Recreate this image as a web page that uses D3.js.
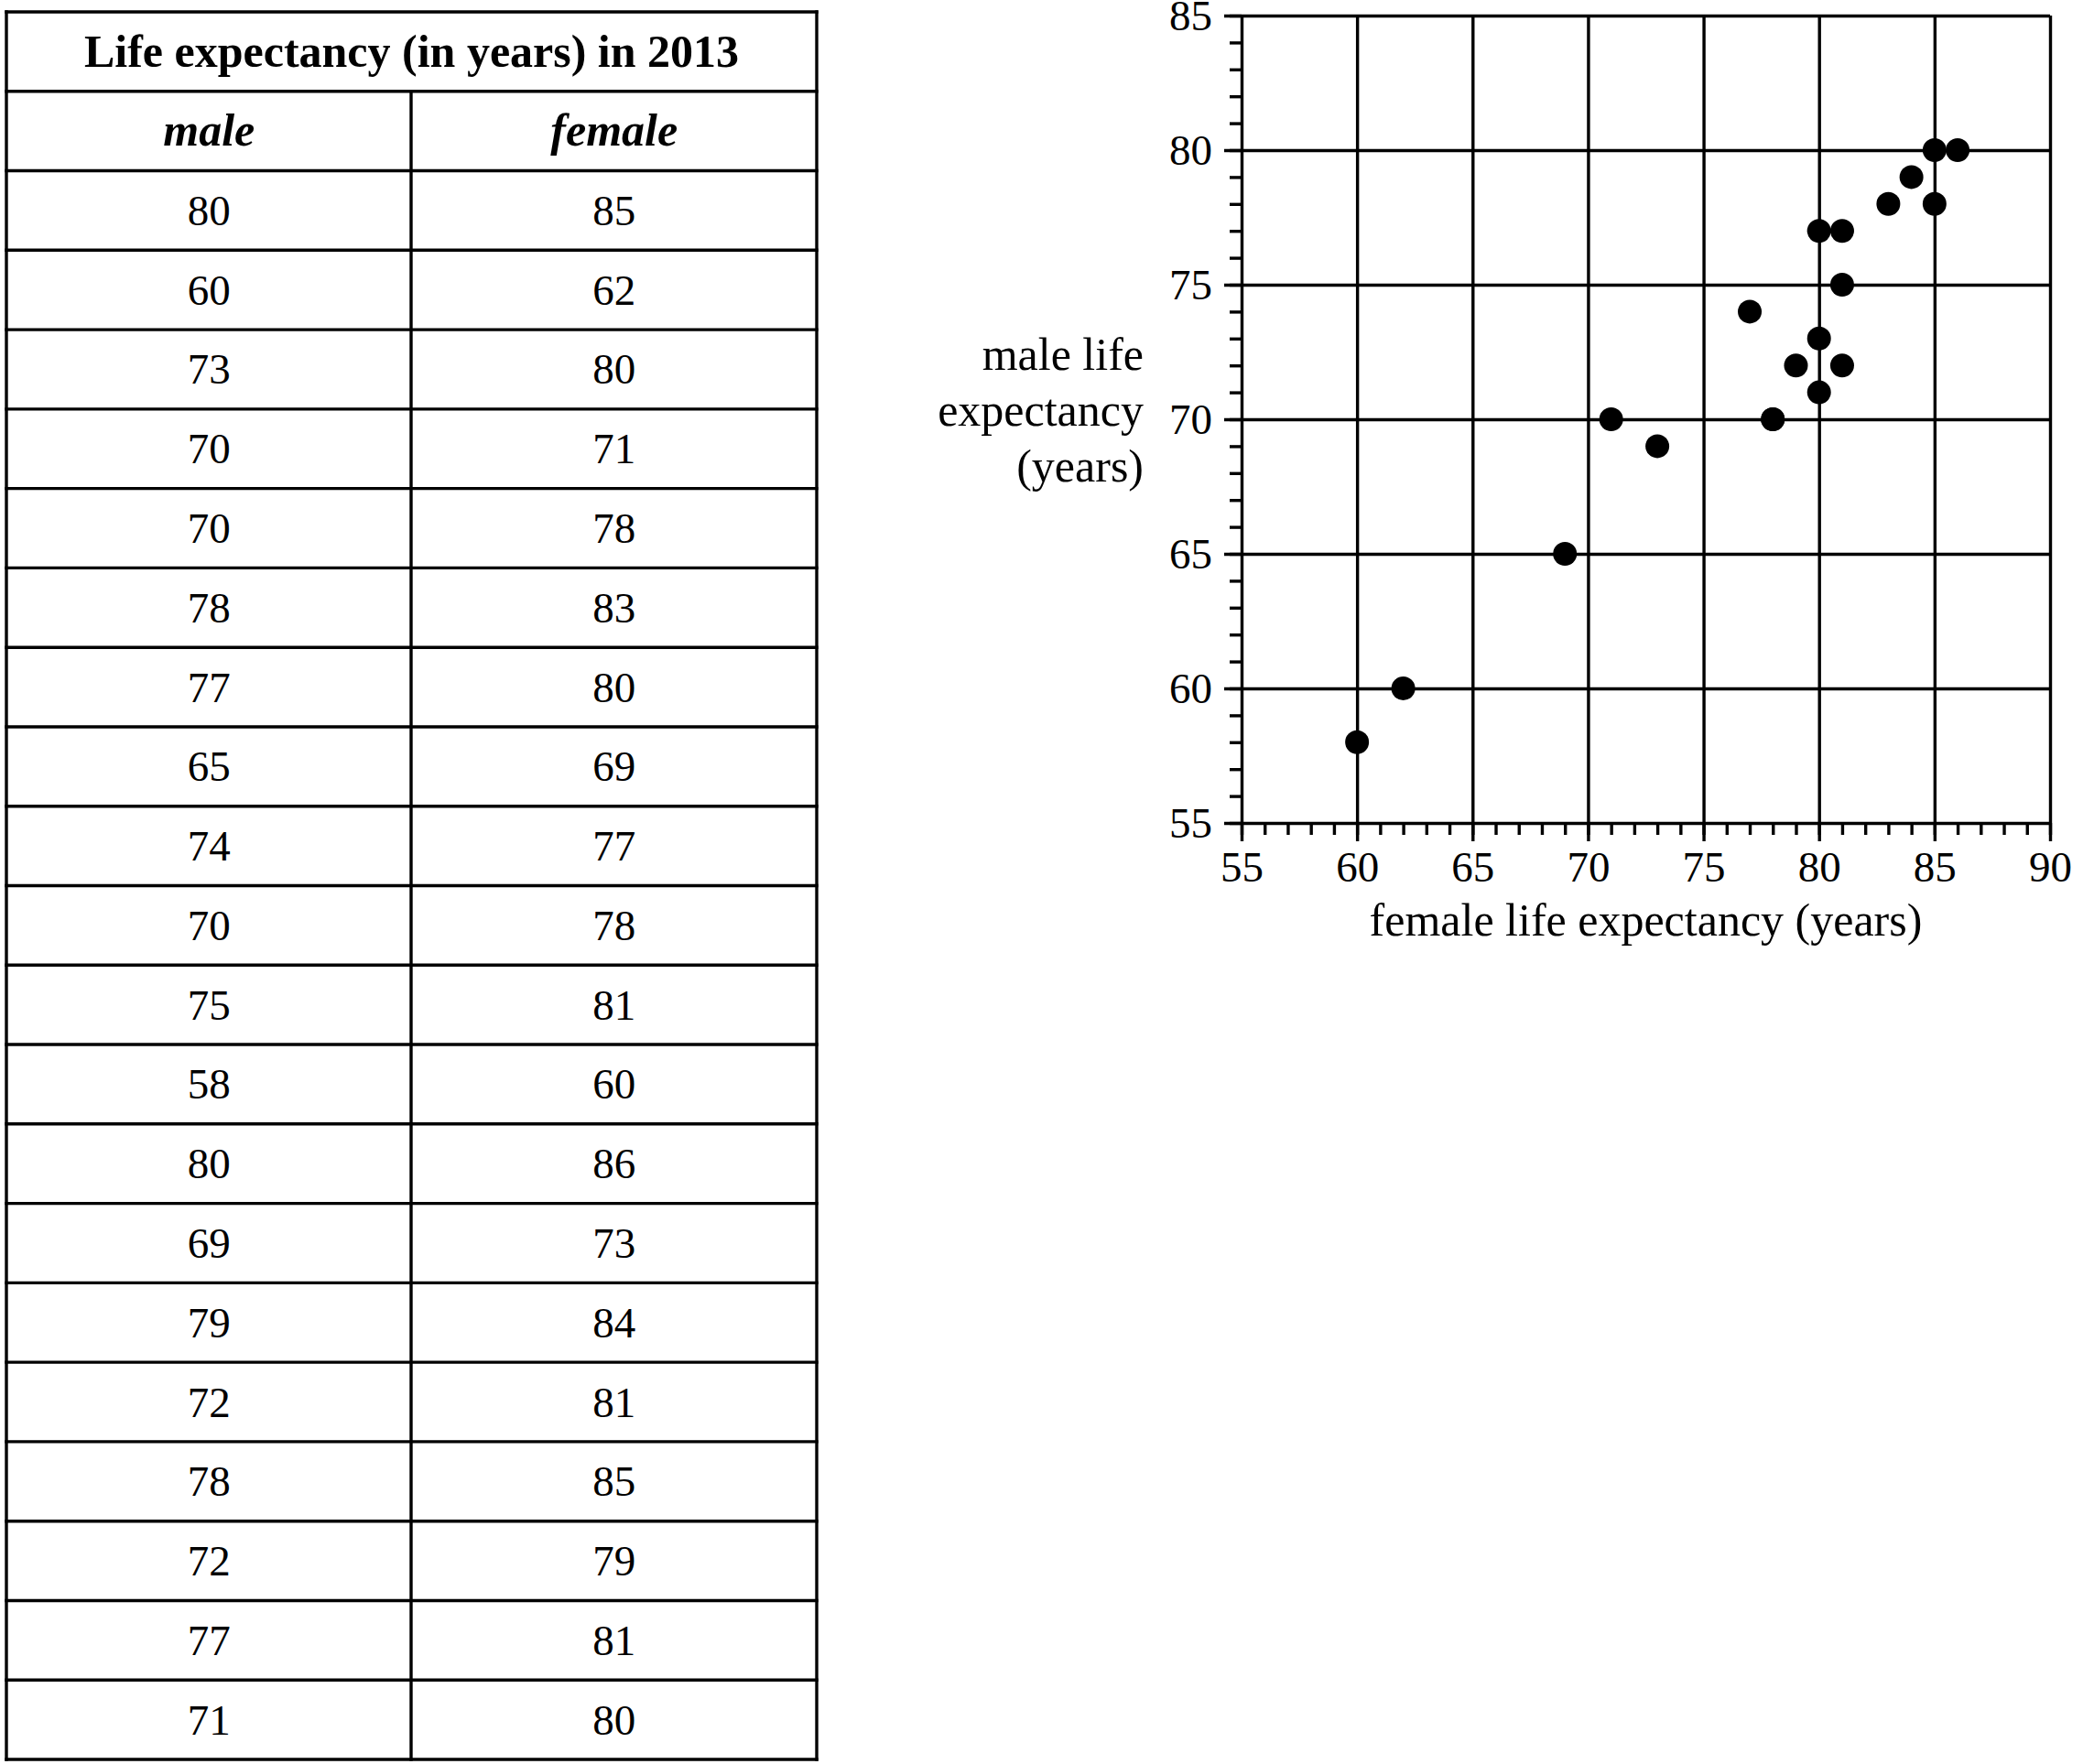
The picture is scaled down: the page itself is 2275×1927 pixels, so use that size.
<!DOCTYPE html>
<html>
<head>
<meta charset="utf-8">
<script src="https://cdn.jsdelivr.net/npm/d3@7"></script>
<style>
  body { margin: 0; background: #fff; }
  text { font-family: "Liberation Serif", "Times New Roman", serif; fill: #000; }
</style>
</head>
<body>
<div id="chart"></div>
<script>
// Life expectancy (in years) in 2013
const male = [80, 60, 73, 70, 70, 78, 77, 65, 74, 70, 75, 58, 80, 69, 79, 72, 78, 72, 77, 71]
const female = [85, 62, 80, 71, 78, 83, 80, 69, 77, 78, 81, 60, 86, 73, 84, 81, 85, 79, 81, 80]
const tableTitle = 'Life expectancy (in years) in 2013'
const columns = ['male', 'female']
const xTicks = [55, 60, 65, 70, 75, 80, 85, 90]
const yTicks = [55, 60, 65, 70, 75, 80, 85]

const width = 2275,
  height = 1927,
  numSize = 47,   // digits
  wordSize = 50,  // titles and headings
  lineW = 3.4

const svg = d3.select('#chart')
  .append('svg')
  .attr('width', width)
  .attr('height', height)
  .style('background', '#fff')

// ---------- table ----------
const tLeft = 7, tMid = 449, tRight = 892
const nRows = male.length + 2
const rowY = d3.scaleLinear().domain([0, nRows]).range([13, 1922])
const colX = d3.scaleBand().domain(columns).range([tLeft, tRight])

const table = svg.append('g')

// horizontal rules
table.selectAll('line.h')
  .data(d3.range(nRows + 1))
  .enter()
  .append('line')
  .attr('x1', tLeft)
  .attr('x2', tRight)
  .attr('y1', d => rowY(d))
  .attr('y2', d => rowY(d))
  .attr('stroke', '#000')
  .attr('stroke-width', lineW)
  .attr('stroke-linecap', 'square')

// verticals (outer frame and the column split below the title)
table.selectAll('line.v')
  .data([[tLeft, 0], [tRight, 0], [tMid, 1]])
  .enter()
  .append('line')
  .attr('x1', d => d[0])
  .attr('x2', d => d[0])
  .attr('y1', d => rowY(d[1]))
  .attr('y2', rowY(nRows))
  .attr('stroke', '#000')
  .attr('stroke-width', lineW)
  .attr('stroke-linecap', 'square')

const rowMid = i => (rowY(i) + rowY(i + 1)) / 2

table.append('text')
  .attr('x', (tLeft + tRight) / 2)
  .attr('y', rowMid(0) + 17)
  .attr('text-anchor', 'middle')
  .attr('font-weight', 'bold')
  .style('font-size', wordSize + 'px')
  .text(tableTitle)

table.selectAll('text.head')
  .data(columns)
  .enter()
  .append('text')
  .attr('x', d => colX(d) + colX.bandwidth() / 2)
  .attr('y', rowMid(1) + 16)
  .attr('text-anchor', 'middle')
  .attr('font-weight', 'bold')
  .attr('font-style', 'italic')
  .style('font-size', wordSize + 'px')
  .text(d => d)

const cells = []
male.forEach((m, i) => {
  cells.push({ col: 'male', row: i, v: m })
  cells.push({ col: 'female', row: i, v: female[i] })
})

table.selectAll('text.cell')
  .data(cells)
  .enter()
  .append('text')
  .attr('x', d => colX(d.col) + colX.bandwidth() / 2)
  .attr('y', d => rowMid(d.row + 2) + 16)
  .attr('text-anchor', 'middle')
  .style('font-size', numSize + 'px')
  .text(d => d.v)

// ---------- scatter ----------
const x = d3.scaleLinear().domain([55, 90]).range([1356, 2239])
const y = d3.scaleLinear().domain([55, 85]).range([899, 17])
const ext = 19

const styleAxis = g => {
  g.select('.domain').remove()
  g.selectAll('.tick line').attr('stroke', '#000').attr('stroke-width', lineW)
  g.selectAll('.tick text')
    .style('font-family', '"Liberation Serif", "Times New Roman", serif')
    .style('font-size', numSize + 'px')
    .attr('fill', '#000')
}

// minor ticks
svg.append('g')
  .attr('transform', `translate(${x(55)},0)`)
  .call(d3.axisLeft(y).tickValues(d3.range(55, 86)).tickSize(13).tickFormat(''))
  .call(styleAxis)
svg.append('g')
  .attr('transform', `translate(0,${y(55)})`)
  .call(d3.axisBottom(x).tickValues(d3.range(55, 91)).tickSize(13).tickFormat(''))
  .call(styleAxis)

// major grid lines, running a little past the axes
svg.append('g')
  .attr('transform', `translate(${x(55) - ext},0)`)
  .call(d3.axisLeft(y).tickValues(yTicks).tickSize(-(x(90) - x(55) + ext)).tickFormat(''))
  .call(styleAxis)
svg.append('g')
  .attr('transform', `translate(0,${y(55) + ext + 1})`)
  .call(d3.axisBottom(x).tickValues(xTicks).tickSize(-(y(55) - y(85) + ext + 1)).tickFormat(''))
  .call(styleAxis)

// tick labels
svg.append('g')
  .attr('transform', `translate(${x(55)},0)`)
  .call(d3.axisLeft(y).tickValues(yTicks).tickSize(0).tickPadding(32))
  .call(styleAxis)
svg.append('g')
  .attr('transform', `translate(0,${y(55)})`)
  .call(d3.axisBottom(x).tickValues(xTicks).tickSize(0).tickPadding(31))
  .call(styleAxis)

// axis titles
svg.append('text')
  .attr('x', (x(55) + x(90)) / 2)
  .attr('y', 1022)
  .attr('text-anchor', 'middle')
  .style('font-size', wordSize + 'px')
  .text('female life expectancy (years)')

svg.append('text')
  .attr('text-anchor', 'end')
  .style('font-size', wordSize + 'px')
  .selectAll('tspan')
  .data(['male life', 'expectancy', '(years)'])
  .enter()
  .append('tspan')
  .attr('x', 1249)
  .attr('y', (d, i) => 404 + i * 61)
  .text(d => d)

// points
svg.selectAll('circle.pt')
  .data(male.map((m, i) => ({ m: m, f: female[i] })))
  .enter()
  .append('circle')
  .attr('cx', d => x(d.f))
  .attr('cy', d => y(d.m))
  .attr('r', 13)
  .attr('fill', '#000')
</script>
</body>
</html>
